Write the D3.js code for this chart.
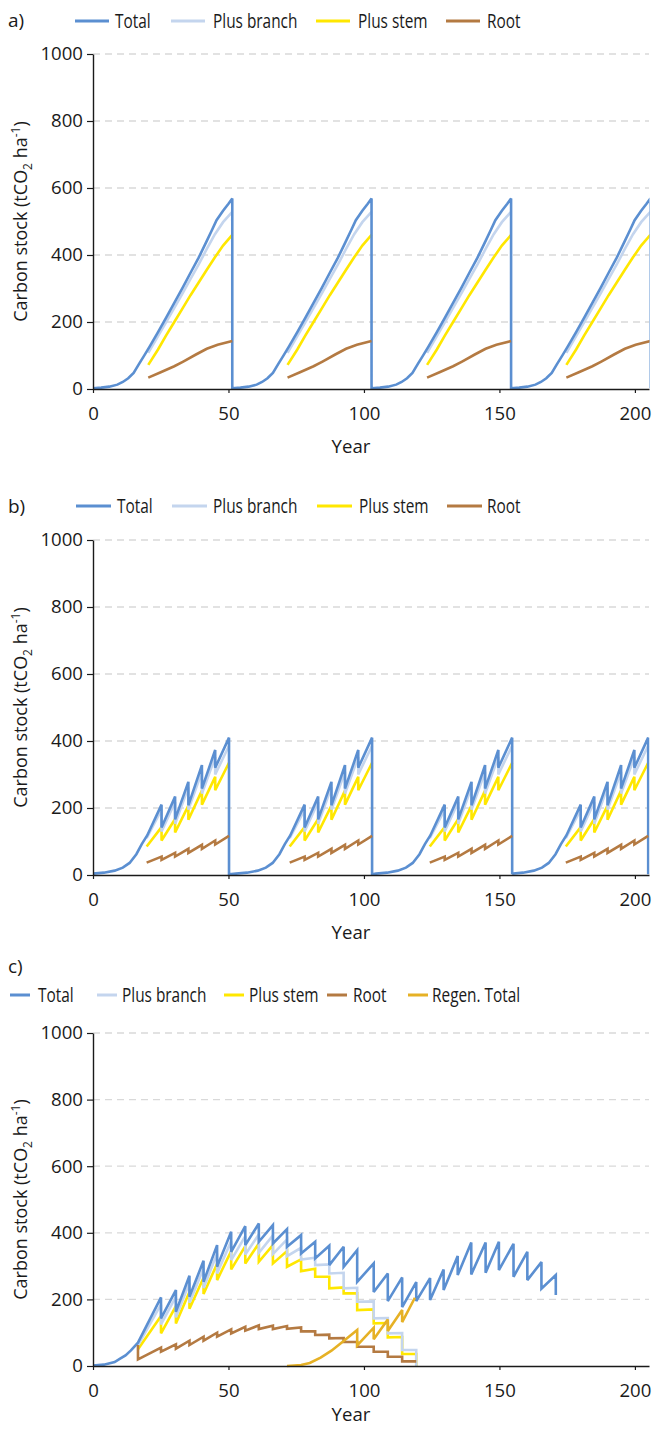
<!DOCTYPE html>
<html>
<head>
<meta charset="utf-8">
<script src="https://cdn.jsdelivr.net/npm/d3@7"></script>
<style>
  body { margin: 0; background: #fff; }
  text { font-family: "Open Sans", sans-serif; fill: #1a1a1a; }
</style>
</head>
<body>
<svg id="chart" width="655" height="1429"></svg>
<script>
// ---------------- data ----------------
const yearTicks = [0, 50, 100, 150, 200];
const stockTicks = [0, 200, 400, 600, 800, 1000];
const seriesLabels = ["Total", "Plus branch", "Plus stem", "Root", "Regen. Total"];
const seriesColors = ["#5b8fd1", "#c4d5ee", "#ffe700", "#b47a42", "#e6b125"];

// a) clear-fell rotation, values by stand age [age, tCO2/ha]
const rotA_total = [[0,2],[3,4],[6,7],[9,13],[11,21],[13,32],[15,48],[17,75],[19,101],[21,128],[24,170],[27,213],[30,257],[33,301],[36,347],[39,392],[42,442],[44,476],[45.6,504],[48,532],[50,553],[51.4,569],[51.4,2]];
const rotA_branch = [[20.4,108],[24,158],[27,200],[30,242],[33,285],[36,329],[39,372],[42,418],[45,462],[48,498],[51.4,529]];
const rotA_stem = [[20.4,72],[24,118],[27,160],[30,200],[33,240],[36,280],[39,318],[42,356],[45,393],[48,428],[51.4,460]];
const rotA_root = [[20.4,34],[25,50],[30,68],[33.3,82],[38,103],[42,120],[46,132],[51.4,143]];
const rotA_starts = [0, 51.4, 102.9, 154.3];

// b) thinned rotation, values by stand age [age, tCO2/ha]
const rotB_total = [[0,4],[4,7],[8,13],[11,22],[13.5,36],[16,62],[18,92],[20,118],[25.3,210],[25.3,142],[30.3,234],[30.3,166],[35.2,278],[35.2,208],[40.2,328],[40.2,258],[45.1,373],[45.1,320],[50.2,410],[50.2,2]];
const rotB_branch = [[19.8,110],[25.3,195],[25.3,130],[30.3,218],[30.3,153],[35.2,262],[35.2,195],[40.2,308],[40.2,243],[45.1,352],[45.1,300],[50.2,386]];
const rotB_stem = [[19.8,85],[25.3,143],[25.3,103],[30.3,167],[30.3,127],[35.2,207],[35.2,165],[40.2,252],[40.2,210],[45.1,293],[45.1,253],[50.2,335]];
const rotB_root = [[19.8,37],[25.3,55],[25.3,45],[30.3,66],[30.3,55],[35.2,78],[35.2,66],[40.2,90],[40.2,78],[45.1,103],[45.1,91],[50.2,117]];
const rotB_starts = [0, 52.8, 104.5, 154.7];

// c) continuous cover with regeneration [year, tCO2/ha]
const coverC_total = [[0,1],[4,4],[8,12],[10,22],[12,32],[14,47],[16.6,70],[25.1,206],[25.1,143],[30.6,228],[30.6,163],[35.6,271],[35.6,208],[40.8,316],[40.8,253],[45.8,363],[45.8,298],[51,403],[51,343],[56.2,420],[56.2,363],[61.2,428],[61.2,373],[66.4,423],[66.4,368],[71.6,411],[71.6,358],[76.8,393],[76.8,338],[82,373],[82,323],[87.2,361],[87.2,303],[92.5,358],[92.5,298],[97.5,348],[97.5,253],[103.6,308],[103.6,222],[108.8,278],[108.8,195],[114.1,266],[114.1,177],[119.3,252],[119.3,195],[124.4,264],[124.4,198],[129.4,290],[129.4,228],[134.6,330],[134.6,273],[139.6,371],[139.6,275],[144.9,371],[144.9,280],[149.8,373],[149.8,288],[155.2,367],[155.2,268],[160.3,343],[160.3,258],[165.5,312],[165.5,232],[170.8,273],[170.8,213]];
const coverC_branch = [[16.6,62],[25.1,185],[25.1,125],[30.6,208],[30.6,146],[35.6,250],[35.6,190],[40.8,293],[40.8,234],[45.8,338],[45.8,278],[51,375],[51,318],[56.2,390],[56.2,335],[61.2,395],[61.2,340],[66.4,392],[66.4,336],[71.6,380],[71.6,330],[76.8,355],[76.8,320],[82,325],[82,303],[87.2,305],[87.2,278],[92.5,280],[92.5,233],[97.5,235],[97.5,193],[103.6,194],[103.6,143],[108.8,144],[108.8,98],[114.1,99],[114.1,48],[119.3,48],[119.3,0]];
const coverC_stem = [[16.6,50],[25.1,150],[25.1,98],[30.6,180],[30.6,128],[35.6,222],[35.6,172],[40.8,265],[40.8,216],[45.8,307],[45.8,258],[51,345],[51,290],[56.2,360],[56.2,308],[61.2,368],[61.2,313],[66.4,363],[66.4,308],[71.6,345],[71.6,298],[76.8,320],[76.8,285],[82,292],[82,268],[87.2,268],[87.2,233],[92.5,236],[92.5,218],[97.5,218],[97.5,168],[103.6,170],[103.6,128],[108.8,129],[108.8,86],[114.1,87],[114.1,36],[119.3,36],[119.3,0]];
const coverC_root = [[16.6,63],[16.6,20],[25.1,55],[25.1,43],[30.6,65],[30.6,52],[35.6,76],[35.6,63],[40.8,88],[40.8,76],[45.8,100],[45.8,88],[51,110],[51,98],[56.2,118],[56.2,106],[61.2,122],[61.2,111],[66.4,121],[66.4,111],[71.6,120],[71.6,112],[76.8,116],[76.8,104],[82,104],[82,93],[87.2,94],[87.2,83],[92.5,84],[92.5,72],[97.5,72],[97.5,58],[103.6,58],[103.6,43],[108.8,43],[108.8,28],[114.1,28],[114.1,14],[119.3,14]];
const coverC_regen = [[71.6,0],[76.8,3],[80,9],[84,25],[88,46],[92.5,75],[97.5,108],[97.5,62],[103.6,115],[103.6,80],[108.8,140],[108.8,105],[114.1,168],[114.1,132],[118.8,205]];

// ---------------- drawing ----------------
const svg = d3.select("#chart");
const X_MAX = 205.2;
const LEGEND_SCALE = 0.77;

// repeat a rotation template at each start year
function rotations(template, starts) {
  return starts.map(s => template.map(([a, v]) => [s + a, v]));
}

const panels = [
  {
    id: "a", label: "a)", labelY: 27, top: 54, bottom: 389, yearY: 453,
    legendY: 21, legendLine: 34,
    legend: [{s:0, lx:75, tx:115}, {s:1, lx:171, tx:213}, {s:2, lx:316, tx:358}, {s:3, lx:446, tx:487}],
    layers: [
      {s:2, paths: rotations(rotA_stem, rotA_starts)},
      {s:1, paths: rotations(rotA_branch, rotA_starts)},
      {s:0, paths: [rotations(rotA_total, rotA_starts).flat()]},
      {s:3, paths: rotations(rotA_root, rotA_starts)}
    ]
  },
  {
    id: "b", label: "b)", labelY: 513, top: 540, bottom: 875, yearY: 939,
    legendY: 506, legendLine: 35,
    legend: [{s:0, lx:76, tx:117}, {s:1, lx:172, tx:213}, {s:2, lx:317, tx:359}, {s:3, lx:447, tx:487}],
    layers: [
      {s:2, paths: rotations(rotB_stem, rotB_starts)},
      {s:1, paths: rotations(rotB_branch, rotB_starts)},
      {s:0, paths: [rotations(rotB_total, rotB_starts).flat()]},
      {s:3, paths: rotations(rotB_root, rotB_starts)}
    ]
  },
  {
    id: "c", label: "c)", labelY: 973, top: 1033, bottom: 1366, yearY: 1421,
    legendY: 995, legendLine: 20,
    legend: [{s:0, lx:10, tx:38}, {s:1, lx:97, tx:122}, {s:2, lx:224, tx:249}, {s:3, lx:327, tx:353}, {s:4, lx:408, tx:432}],
    layers: [
      {s:2, paths: [coverC_stem]},
      {s:1, paths: [coverC_branch]},
      {s:0, paths: [coverC_total]},
      {s:3, paths: [coverC_root]},
      {s:4, paths: [coverC_regen]}
    ]
  }
];

panels.forEach(p => {
  const g = svg.append("g");
  const x = d3.scaleLinear().domain([0, X_MAX]).range([93, 649]);
  const y = d3.scaleLinear().domain([0, 1000]).range([p.bottom, p.top]);

  // panel letter
  g.append("text").attr("x", 8).attr("y", p.labelY)
    .attr("font-size", 19).text(p.label);

  // legend
  p.legend.forEach(item => {
    g.append("line")
      .attr("x1", item.lx).attr("x2", item.lx + p.legendLine)
      .attr("y1", p.legendY).attr("y2", p.legendY)
      .attr("stroke", seriesColors[item.s]).attr("stroke-width", 3);
    g.append("text")
      .attr("transform", `translate(${item.tx},${p.legendY + 7}) scale(${LEGEND_SCALE},1)`)
      .attr("font-size", 20)
      .text(seriesLabels[item.s]);
  });

  // horizontal grid
  g.append("g").selectAll("line")
    .data(stockTicks.filter(t => t > 0))
    .join("line")
    .attr("x1", x(0)).attr("x2", x(X_MAX))
    .attr("y1", d => y(d)).attr("y2", d => y(d))
    .attr("stroke", "#d9d9d9").attr("stroke-width", 1.3)
    .attr("stroke-dasharray", "7,5");

  // series lines
  const clipId = "clip-" + p.id;
  g.append("clipPath").attr("id", clipId).append("rect")
    .attr("x", x(0)).attr("y", p.top - 10)
    .attr("width", x(X_MAX) - x(0) + 0.5).attr("height", p.bottom - p.top + 12);
  const line = d3.line().x(d => x(d[0])).y(d => y(d[1]));
  const plot = g.append("g").attr("clip-path", `url(#${clipId})`);
  p.layers.forEach(layer => {
    plot.append("g").selectAll("path")
      .data(layer.paths)
      .join("path")
      .attr("d", line)
      .attr("fill", "none")
      .attr("stroke", seriesColors[layer.s])
      .attr("stroke-width", 2.6)
      .attr("stroke-linejoin", "miter")
      .attr("stroke-miterlimit", 3);
  });

  // axes
  const yAxis = g.append("g").attr("transform", `translate(${x(0)},0)`)
    .call(d3.axisLeft(y).tickValues(stockTicks).tickSize(6).tickSizeOuter(0).tickPadding(4).tickFormat(d3.format("d")));
  yAxis.selectAll("text").attr("font-size", 18.6).attr("fill", "#1a1a1a").style("font-family", "'Open Sans', sans-serif");
  const xAxis = g.append("g").attr("transform", `translate(0,${y(0)})`)
    .call(d3.axisBottom(x).tickValues(yearTicks).tickSize(4).tickSizeOuter(0).tickPadding(14).tickFormat(d3.format("d")));
  xAxis.selectAll("text").attr("font-size", 18.6).attr("fill", "#1a1a1a").style("font-family", "'Open Sans', sans-serif");
  [yAxis, xAxis].forEach(a => {
    a.select(".domain").attr("stroke", "#1a1a1a").attr("stroke-width", 1.4);
    a.selectAll(".tick line").attr("stroke", "#1a1a1a").attr("stroke-width", 1.2);
  });

  // axis titles
  g.append("text").attr("x", 351).attr("y", p.yearY)
    .attr("text-anchor", "middle").attr("font-size", 18.6).text("Year");
  const yt = g.append("text")
    .attr("transform", `translate(27,${(p.top + p.bottom) / 2}) rotate(-90)`)
    .attr("text-anchor", "middle").attr("font-size", 18);
  yt.append("tspan").text("Carbon stock (tCO");
  yt.append("tspan").attr("font-size", 12).attr("dy", 5).text("2");
  yt.append("tspan").attr("dy", -5).text(" ha");
  yt.append("tspan").attr("font-size", 12).attr("dy", -7).text("-1");
  yt.append("tspan").attr("dy", 7).text(")");
});
</script>
</body>
</html>
